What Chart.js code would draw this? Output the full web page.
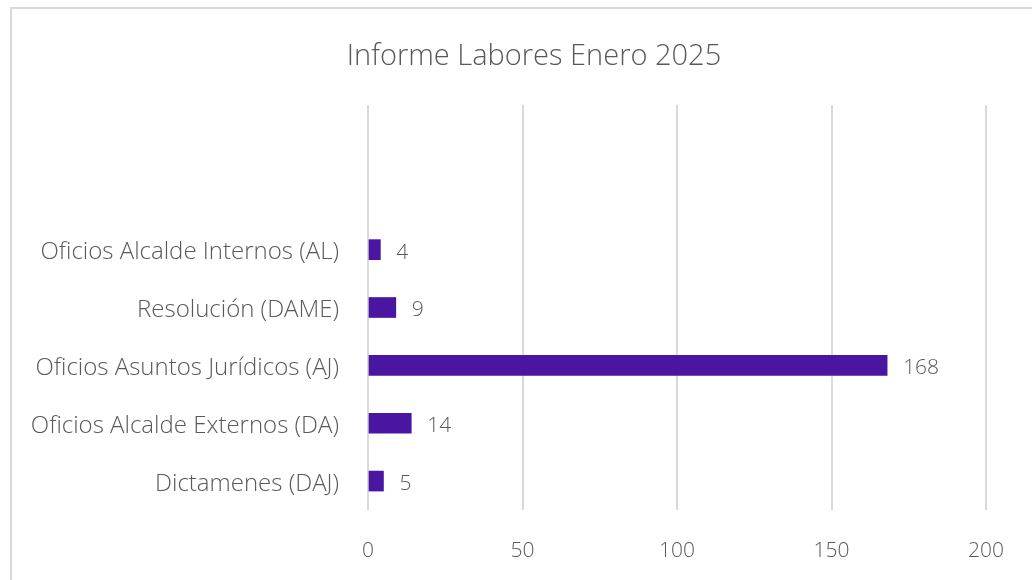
<!DOCTYPE html>
<html><head><meta charset="utf-8">
<script src="https://cdn.jsdelivr.net/npm/chart.js@4.4.1/dist/chart.umd.min.js"></script>
<style>
html,body{margin:0;padding:0;background:#fff;overflow:hidden;}
#frame{position:absolute;left:10px;top:7px;width:1100px;height:700px;border:2px solid #d9d9d9;box-sizing:border-box;}
#wrap{position:absolute;left:0;top:0;width:1032px;height:580px;}
</style></head>
<body>
<div id="frame"></div>
<div id="wrap"><canvas id="c" width="1032" height="580"></canvas></div>
<script>
const titleText = 'Informe Labores Enero 2025';
const categories = ['', '', 'Oficios Alcalde Internos (AL)', 'Resolución (DAME)', 'Oficios Asuntos Jurídicos (AJ)', 'Oficios Alcalde Externos (DA)', 'Dictamenes (DAJ)'];
const values = [null, null, 4, 9, 168, 14, 5];
const xTicks = [0, 50, 100, 150, 200];

const FONT = "'Open Sans', sans-serif";
const GRAY = '#595959';

const titlePlugin = {
  id: 'titlePlugin',
  afterDraw(chart) {
    const ctx = chart.ctx;
    ctx.save();
    ctx.font = '300 29px ' + FONT;
    ctx.fillStyle = GRAY;
    ctx.textAlign = 'center';
    ctx.textBaseline = 'middle';
    ctx.fillText(titleText, 534, 57);
    ctx.restore();
  }
};

const valueLabels = {
  id: 'valueLabels',
  afterDatasetsDraw(chart) {
    const ctx = chart.ctx;
    const meta = chart.getDatasetMeta(0);
    ctx.save();
    ctx.font = '300 21px ' + FONT;
    ctx.fillStyle = GRAY;
    ctx.textAlign = 'left';
    ctx.textBaseline = 'middle';
    meta.data.forEach((bar, i) => {
      const v = values[i];
      if (v === null || v === undefined) return;
      ctx.fillText(String(v), bar.x + 16, bar.y + 3);
    });
    ctx.restore();
  }
};

new Chart(document.getElementById('c'), {
  type: 'bar',
  data: {
    labels: categories,
    datasets: [{
      data: values,
      backgroundColor: '#4A15A0',
      borderWidth: 0,
      barThickness: 20
    }]
  },
  options: {
    indexAxis: 'y',
    responsive: false,
    animation: false,
    devicePixelRatio: 1,
    layout: { padding: { left: 0, right: 45, top: 105, bottom: 0 } },
    plugins: {
      legend: { display: false },
      tooltip: { enabled: false },
      title: { display: false }
    },
    scales: {
      x: {
        min: 0, max: 200,
        afterBuildTicks(scale) { scale.ticks = xTicks.map(v => ({ value: v })); },
        afterFit(scale) { scale.height = 70; },
        grid: { color: '#d9d9d9', lineWidth: 2, drawTicks: false },
        border: { display: false },
        ticks: { color: GRAY, padding: 28, font: { family: FONT, size: 21, weight: '300' } }
      },
      y: {
        afterFit(scale) { scale.width = 368; },
        grid: { display: false, drawTicks: false },
        border: { display: false },
        ticks: { color: GRAY, padding: 29, labelOffset: 3, autoSkip: false, font: { family: FONT, size: 24, weight: '300' } }
      }
    }
  },
  plugins: [valueLabels, titlePlugin]
});
</script>
</body></html>
